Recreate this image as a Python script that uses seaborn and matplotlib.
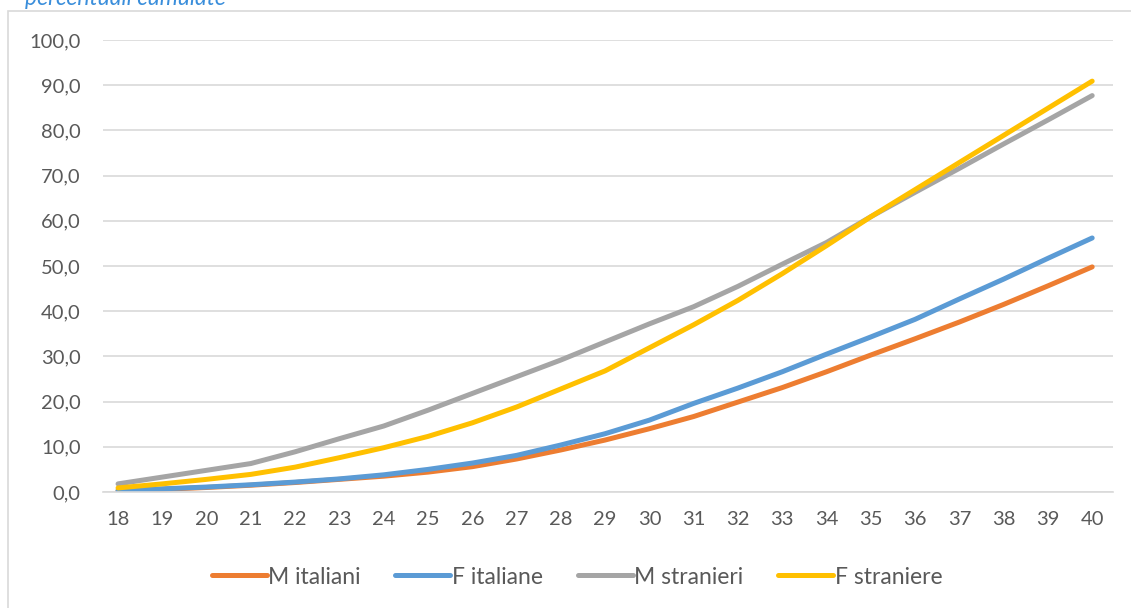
import matplotlib
matplotlib.use("Agg")
import matplotlib.pyplot as plt
import seaborn as sns
import pandas as pd
from matplotlib.patches import Rectangle
from matplotlib.ticker import FuncFormatter
from matplotlib.lines import Line2D

ages = list(range(18, 41))
m_italiani = [0.3, 0.6, 1.0, 1.5, 2.1, 2.8, 3.5, 4.4, 5.6, 7.3, 9.3, 11.5, 14.0, 16.7, 19.9, 23.1, 26.6, 30.3, 33.9, 37.6, 41.5, 45.6, 49.8]
f_italiane = [0.3, 0.7, 1.1, 1.6, 2.2, 2.9, 3.8, 5.0, 6.4, 8.1, 10.4, 12.9, 15.9, 19.6, 23.0, 26.6, 30.5, 34.3, 38.2, 42.7, 47.1, 51.7, 56.2]
m_stranieri = [1.8, 3.3, 4.8, 6.3, 8.9, 11.8, 14.6, 18.1, 21.8, 25.5, 29.2, 33.2, 37.2, 41.0, 45.5, 50.4, 55.2, 60.9, 66.3, 71.6, 77.0, 82.3, 87.7]
f_straniere = [0.9, 1.8, 2.8, 3.9, 5.5, 7.6, 9.8, 12.3, 15.3, 18.8, 22.8, 26.8, 31.9, 37.0, 42.4, 48.3, 54.5, 60.9, 66.9, 72.9, 78.9, 84.9, 90.9]
series_names = ["M italiani", "F italiane", "M stranieri", "F straniere"]
colors = ["#ED7D31", "#5B9BD5", "#A5A5A5", "#FFC000"]
title = "percentuali cumulate"

df = pd.DataFrame({
    "eta": ages * 4,
    "valore": m_italiani + f_italiane + m_stranieri + f_straniere,
    "serie": sum([[n] * len(ages) for n in series_names], []),
})

sns.set_theme(style="white")
plt.rcParams["font.family"] = ["Lato", "DejaVu Sans"]

W, H = 1131, 608
fig = plt.figure(figsize=(W / 100, H / 100), dpi=100)
ax = fig.add_axes([103 / W, 1 - 492 / H, (1113 - 103) / W, (492 - 40) / H])

sns.lineplot(data=df, x="eta", y="valore", hue="serie", hue_order=series_names,
             palette=colors, linewidth=3.6, ax=ax, legend=False,
             solid_capstyle="round")

ax.set_xlim(17.66, 40.47)
ax.set_ylim(0, 100)
ax.set_xticks(ages)
ax.set_yticks(range(0, 101, 10))
ax.yaxis.set_major_formatter(FuncFormatter(lambda v, p: f"{v:.1f}".replace(".", ",")))
ax.grid(axis="y", color="#D9D9D9", linewidth=1.2)
ax.set_axisbelow(True)
for s in ["left", "right", "top"]:
    ax.spines[s].set_visible(False)
ax.spines["bottom"].set_color("#D9D9D9")
ax.spines["bottom"].set_linewidth(1.2)
ax.tick_params(axis="both", length=0, labelsize=14.5, labelcolor="#595959")
ax.tick_params(axis="x", pad=14)
ax.tick_params(axis="y", pad=16)
ax.set_xlabel("")
ax.set_ylabel("")

handles = [Line2D([0], [0], color=c, lw=3.6, solid_capstyle="round") for c in colors]
leg = fig.legend(handles, series_names, loc="center", bbox_to_anchor=(577 / W, 1 - 577 / H),
                 ncol=4, frameon=False, fontsize=16.5, handlelength=2.4, handletextpad=0.08,
                 columnspacing=1.5, labelcolor="#595959")

fig.patches.append(Rectangle((8 / W, -0.1), 1.2, 1 - 11 / H + 0.1, transform=fig.transFigure,
                             fill=False, edgecolor="#D9D9D9", linewidth=1.2))
fig.text(25 / W, 1 - 5 / H, title, ha="left", va="baseline", fontsize=16.5,
         style="italic", color="#3A8EDB")

fig.savefig("out.png", dpi=100)
